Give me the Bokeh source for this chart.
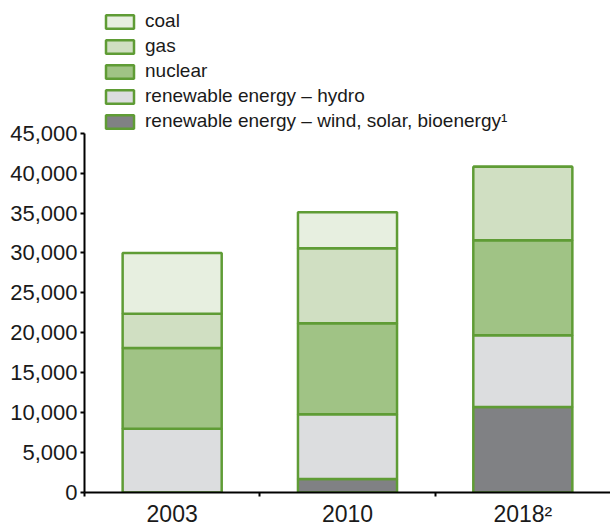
from bokeh.plotting import figure
from bokeh.models import (Range1d, FixedTicker, NumeralTickFormatter, Legend,
                          LegendItem, LinearAxis, ColumnDataSource)
from bokeh.embed import file_html
from bokeh.resources import INLINE

# ---- data ----
years = ["2003", "2010", "2018²"]
wind = [0, 1700, 10700]
hydro = [8000, 8100, 9000]
nuclear = [10100, 11400, 11900]
gas = [4300, 9400, 9200]
coal = [7600, 4500, 0]
y_ticks = list(range(0, 45001, 5000))

series = ["wind", "hydro", "nuclear", "gas", "coal"]
labels = {
    "coal": "coal",
    "gas": "gas",
    "nuclear": "nuclear",
    "hydro": "renewable energy – hydro",
    "wind": "renewable energy – wind, solar, bioenergy¹",
}
fills = {
    "wind": "#808184",
    "hydro": "#dcdddf",
    "nuclear": "#a0c385",
    "gas": "#d0dfc2",
    "coal": "#e7efe0",
}
outline = "#5f9c35"

xs = [i + 0.5 for i in range(len(years))]
src = ColumnDataSource(dict(x=xs, wind=wind, hydro=hydro, nuclear=nuclear,
                            gas=gas, coal=coal))

# frame spans the full height above the x axis so the legend sits inside it;
# the y axis is drawn only from 0 to 45,000
frame_bottom = 493
top_tick_px = 133
y_axis_max = y_ticks[-1]
y_end = y_axis_max * frame_bottom / (frame_bottom - top_tick_px)

p = figure(width=610, height=529,
           x_range=Range1d(0, len(years)), y_range=Range1d(0, y_end),
           output_backend="svg", toolbar_location=None,
           x_axis_type=None, y_axis_type=None,
           min_border_left=84, min_border_right=0,
           min_border_top=0, min_border_bottom=529 - frame_bottom)
p.outline_line_color = None
p.background_fill_color = "white"

renderers = p.vbar_stack(series, x="x", width=0.565, source=src,
                         fill_color=[fills[s] for s in series],
                         line_color=outline, line_width=2.5)
rmap = dict(zip(series, renderers))

# axes
xaxis = LinearAxis(ticker=FixedTicker(ticks=xs, minor_ticks=[0, 1, 2]),
                   major_label_overrides={x: y for x, y in zip(xs, years)})
xaxis.axis_line_color = "black"
xaxis.axis_line_width = 2
xaxis.major_tick_out = 0
xaxis.major_tick_in = 0
xaxis.minor_tick_out = 4
xaxis.minor_tick_in = 0
xaxis.minor_tick_line_width = 2
xaxis.minor_tick_line_color = "black"
xaxis.major_label_standoff = 4
xaxis.major_label_text_font = "Liberation Sans"
xaxis.major_label_text_font_size = "23px"
xaxis.major_label_text_color = "#1a1a1a"
p.add_layout(xaxis, "below")

yaxis = LinearAxis(ticker=FixedTicker(ticks=y_ticks, minor_ticks=[]),
                   formatter=NumeralTickFormatter(format="0,0"),
                   bounds=(0, y_axis_max))
yaxis.axis_line_color = "black"
yaxis.axis_line_width = 2
yaxis.major_tick_out = 4
yaxis.major_tick_in = 0
yaxis.major_tick_line_width = 2
yaxis.minor_tick_line_color = None
yaxis.major_label_standoff = 3
yaxis.major_label_text_font = "Liberation Sans"
yaxis.major_label_text_font_size = "22px"
yaxis.major_label_text_color = "#1a1a1a"
p.add_layout(yaxis, "left")

legend_order = ["coal", "gas", "nuclear", "hydro", "wind"]
legend = Legend(items=[LegendItem(label=labels[s], renderers=[rmap[s]])
                       for s in legend_order],
                location=(18, frame_bottom - 11 - 122), glyph_width=35,
                glyph_height=17, label_height=22,
                label_standoff=8, spacing=3, padding=0, margin=0,
                border_line_color=None, background_fill_alpha=0,
                label_text_font="Liberation Sans",
                label_text_font_size="19px", label_text_color="#1a1a1a")
p.add_layout(legend)

open("out.html", "w").write(file_html(p, INLINE))
